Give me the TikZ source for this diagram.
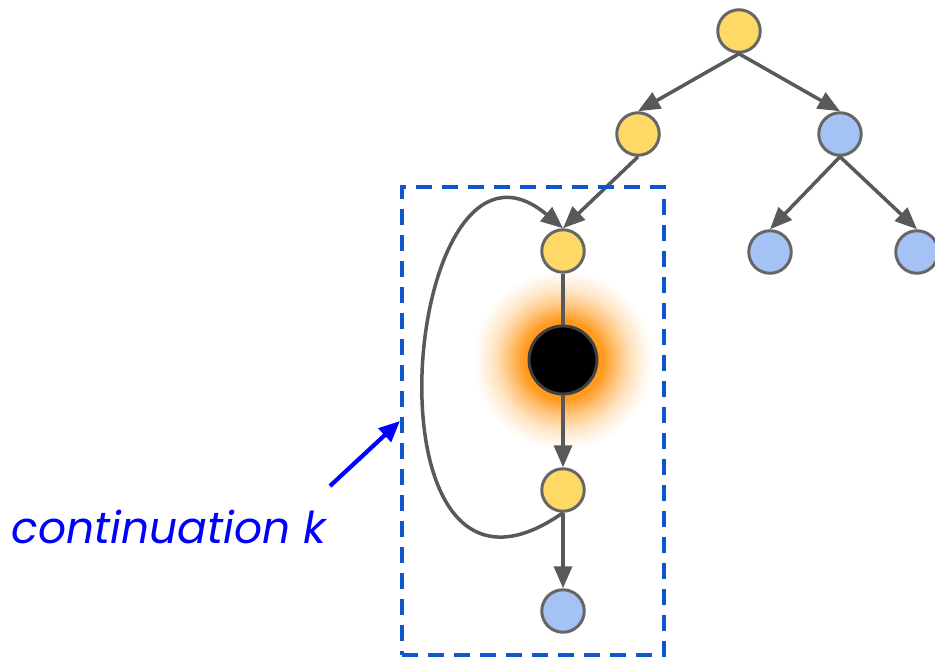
\documentclass[tikz,border=0pt]{standalone}
\usepackage{fontspec}
\usepackage{xcolor}
\usepackage{tikz}
\usetikzlibrary{positioning,arrows.meta,fit,backgrounds}
\newfontfamily\contfont{Poppins}
\definecolor{treeYellow}{HTML}{FFD966}
\definecolor{treeBlue}{HTML}{A4C2F4}
\definecolor{nodeGray}{HTML}{666666}
\definecolor{edgeGray}{HTML}{595959}
\definecolor{boxBlue}{HTML}{1155CC}
\definecolor{textBlue}{HTML}{0000FF}
\definecolor{glowOrange}{HTML}{FF9A1F}
\colorlet{glowMid}{glowOrange!60!white}
\colorlet{glowLight}{glowOrange!28!white}
\colorlet{glowFaint}{glowOrange!8!white}
\pgfdeclareradialshading{holeglow}{\pgfpointorigin}{color(0bp)=(glowOrange); color(11bp)=(glowOrange); color(15bp)=(glowMid); color(19bp)=(glowLight); color(23bp)=(glowFaint); color(25bp)=(white); color(50bp)=(white)}
\tikzset{
  yellownode/.style={circle,draw=nodeGray,line width=1.7pt,fill=treeYellow,
    minimum size=0.85cm,inner sep=0pt},
  bluenode/.style={circle,draw=nodeGray,line width=1.7pt,fill=treeBlue,
    minimum size=0.85cm,inner sep=0pt},
  holenode/.style={circle,draw=black!75,line width=1.7pt,fill=black,
    minimum size=1.36cm,inner sep=0pt},
  arrow/.style={-{Triangle[length=0.44cm,width=0.36cm]},line width=2pt,draw=edgeGray},
  link/.style={line width=2pt,draw=edgeGray},
  contbox/.style={draw=boxBlue,dash pattern=on 0.32cm off 0.2cm,line width=2.3pt,inner sep=0pt},
  contarrow/.style={-{Triangle[length=0.42cm,width=0.36cm]},line width=2.4pt,draw=textBlue},
  contlabel/.style={font=\contfont\itshape\fontsize{25}{28}\selectfont,text=textBlue}
}
\begin{document}
\begin{tikzpicture}[on grid]
  \useasboundingbox (0,0) rectangle (18.7,13.18);
  \node[yellownode] (root) at (14.78,12.56) {};
  \node[yellownode, below left=2.06cm and 2.02cm of root] (left) {};
  \node[bluenode, below right=2.06cm and 2.02cm of root] (right) {};
  \node[bluenode, below left=2.36cm and 1.4cm of right] (leafa) {};
  \node[bluenode, below right=2.36cm and 1.54cm of right] (leafb) {};
  \node[yellownode, below left=2.34cm and 1.5cm of left] (call) {};
  \node[holenode, below=2.18cm of call] (hole) {};
  \node[yellownode, below=2.6cm of hole] (resume) {};
  \node[bluenode, below=2.42cm of resume] (after) {};

  \begin{scope}[on background layer]
    \shade[shading=holeglow] (hole.center) circle (1.8cm);
  \end{scope}

  \draw[arrow] (root.south) -- (left.north);
  \draw[arrow] (root.south) -- (right.north);
  \draw[arrow] (right.south) -- (leafa.north);
  \draw[arrow] (right.south) -- (leafb.north);
  \draw[arrow] (left.south) -- (call.north);
  \draw[link] (call.south) -- (hole.north);
  \draw[arrow] (hole.south) -- (resume.north);
  \draw[arrow] (resume.south) to[out=-145,in=140,out looseness=2.3,in looseness=1.9] (call.north);
  \draw[arrow] (resume.south) -- (after.north);

  \coordinate (kbl) at (8.04,0.08);
  \coordinate (ktr) at (13.28,9.44);
  \node[contbox, fit=(kbl)(ktr)] (kbox) {};
  \node[contlabel, anchor=base] (klabel) at (3.38,2.32) {continuation k};
  \coordinate (kstart) at (6.6,3.46);
  \draw[contarrow] (kstart) -- (kbox.west);
\end{tikzpicture}
\end{document}
